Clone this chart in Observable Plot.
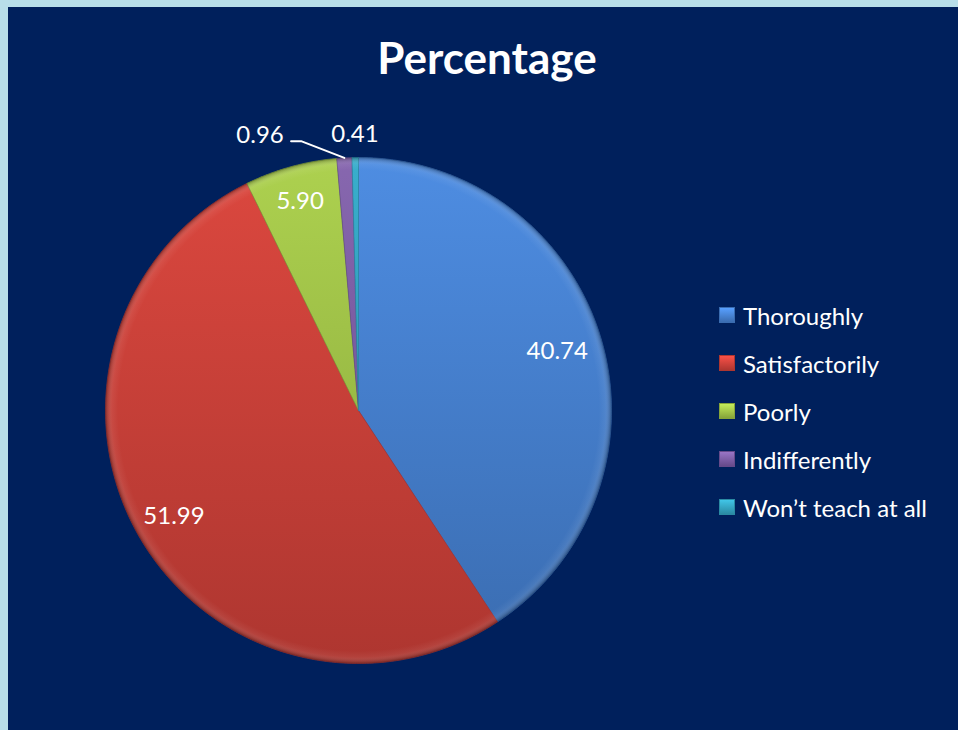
<!DOCTYPE html>
<html>
<head>
<meta charset="utf-8">
<script src="https://cdn.jsdelivr.net/npm/d3@7"></script>
<script src="https://cdn.jsdelivr.net/npm/@observablehq/plot@0.6"></script>
<style>
  html, body { margin: 0; padding: 0; background: #b8dee9; }
  #frame { position: absolute; left: 8px; top: 7px; width: 950px; height: 723px; background: #00205c; overflow: hidden; }
  #title { position: absolute; left: 0; top: 31px; width: 958px; text-align: center; color: #fff;
           font: bold 44px Lato, "Open Sans", sans-serif; margin-left: 8px; }
  #chart { position: absolute; left: 0; top: 0; }
  #legend { position: absolute; left: 719px; top: 291px; font: 24px Lato, "Open Sans", sans-serif; color: #fff; }
  .item { position: relative; height: 48px; display: flex; align-items: center; }
  .sw { width: 16px; height: 16px; margin-right: 8px; box-sizing: border-box; }
</style>
</head>
<body>
<div id="frame"></div>
<div id="chart"></div>
<div id="title">Percentage</div>
<div id="legend"></div>
<script>
// ---- data ----
const categories = ["Thoroughly", "Satisfactorily", "Poorly", "Indifferently", "Won\u2019t teach at all"];
const values = [40.74, 51.99, 5.90, 0.96, 0.41];
const labels = ["40.74", "51.99", "5.90", "0.96", "0.41"];
const colors = ["#4a86d6", "#d1443c", "#a4c64b", "#8062a6", "#36a5c1"];
const darkColors = ["#3a6cb0", "#ae3630", "#86a43a", "#664a8a", "#2a8aa3"];

// ---- geometry helpers (unit circle; y up) ----
const W = 958, H = 730;
const cx = 358, cy = 410, R = 253;           // pie centre and radius in pixels
const xDomain = [-cx / R, (W - cx) / R];
const yDomain = [-(H - cy) / R, cy / R];

const total = d3.sum(values);
const slices = [];
let acc = 0;
values.forEach((v, i) => {
  const a0 = acc / total * 2 * Math.PI;
  acc += v;
  const a1 = acc / total * 2 * Math.PI;
  slices.push({i, cat: categories[i], v, a0, a1, mid: (a0 + a1) / 2});
});

// polygon points for each slice (angle measured clockwise from 12 o'clock)
const poly = [];
for (const s of slices) {
  poly.push({cat: s.cat, i: s.i, x: 0, y: 0});
  const n = Math.max(4, Math.ceil((s.a1 - s.a0) / 0.01));
  for (let k = 0; k <= n; k++) {
    const a = s.a0 + (s.a1 - s.a0) * k / n;
    poly.push({cat: s.cat, i: s.i, x: Math.sin(a), y: Math.cos(a)});
  }
  poly.push({cat: s.cat, i: s.i, x: 0, y: 0});
}

// label placement: inside for big slices, outside for tiny ones
const labelRadius = [0.82, 0.84, 0.86, 1.09, 1.09];
const labelShift = [0, 0, 0, -83 / R, 0];      // 0.96 is pulled left with a leader line
const labelData = slices.map((s, i) => ({
  text: labels[i],
  x: Math.sin(s.mid) * labelRadius[i] + labelShift[i],
  y: Math.cos(s.mid) * labelRadius[i]
}));
// leader line for the 0.96 label
const s3 = slices[3];
const lead = [
  {x: labelData[3].x + 31 / R, y: labelData[3].y - 6 / R},
  {x: labelData[3].x + 41 / R, y: labelData[3].y - 6 / R},
  {x: Math.sin(s3.mid) * 1.0, y: Math.cos(s3.mid) * 1.0}
];

const chart = Plot.plot({
  width: W, height: H,
  margin: 0,
  x: {domain: xDomain, axis: null},
  y: {domain: yDomain, axis: null},
  color: {type: "identity"},
  style: {background: "transparent", overflow: "visible"},
  marks: [
    Plot.line(poly, {x: "x", y: "y", z: "cat", fill: d => `url(#grad${d.i})`, stroke: d => darkColors[d.i],
      strokeWidth: 1, strokeOpacity: 0.6, curve: "linear-closed"}),
    // bevel rim
    Plot.line(poly, {x: "x", y: "y", z: "cat", fill: "url(#rim)", stroke: "none", curve: "linear-closed"}),
    Plot.line(lead, {x: "x", y: "y", stroke: "white", strokeWidth: 2}),
    Plot.text(labelData, {x: "x", y: "y", text: "text", fill: "white", fontSize: 24,
      fontFamily: "Lato, 'Open Sans', sans-serif", textAnchor: "middle", lineAnchor: "middle"})
  ]
});

// gradients
const defs = d3.select(chart).insert("defs", ":first-child");
colors.forEach((c, i) => {
  const g = defs.append("linearGradient").attr("id", "grad" + i)
    .attr("gradientUnits", "userSpaceOnUse")
    .attr("x1", 0).attr("y1", cy - R).attr("x2", 0).attr("y2", cy + R);
  g.append("stop").attr("offset", "0%").attr("stop-color", d3.color(c).brighter(0.15));
  g.append("stop").attr("offset", "100%").attr("stop-color", darkColors[i]);
});
const rim = defs.append("radialGradient").attr("id", "rim")
  .attr("gradientUnits", "userSpaceOnUse").attr("cx", cx).attr("cy", cy).attr("r", R);
rim.append("stop").attr("offset", "0%").attr("stop-color", "white").attr("stop-opacity", 0);
rim.append("stop").attr("offset", "95%").attr("stop-color", "white").attr("stop-opacity", 0);
rim.append("stop").attr("offset", "97.5%").attr("stop-color", "white").attr("stop-opacity", 0.06);
rim.append("stop").attr("offset", "100%").attr("stop-color", "black").attr("stop-opacity", 0.3);

document.getElementById("chart").appendChild(chart);

// legend
const leg = d3.select("#legend");
categories.forEach((c, i) => {
  const it = leg.append("div").attr("class", "item");
  it.append("div").attr("class", "sw")
    .style("background", `linear-gradient(180deg, ${d3.color(colors[i]).brighter(0.5)}, ${darkColors[i]})`)
    .style("border", `1px solid ${darkColors[i]}`);
  it.append("span").text(c);
});
</script>
</body>
</html>
